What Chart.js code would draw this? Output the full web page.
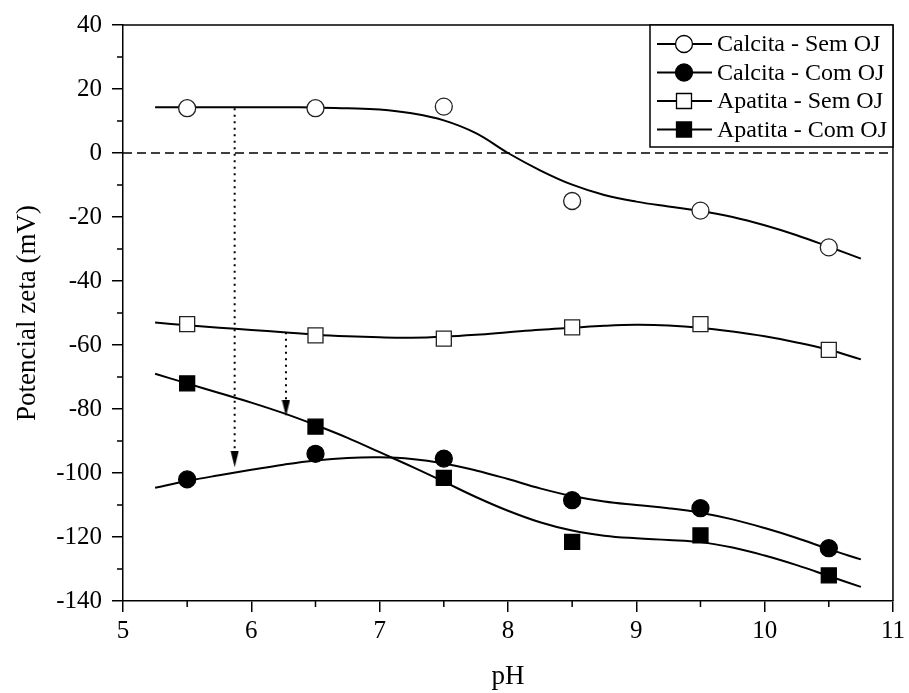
<!DOCTYPE html>
<html lang="pt-br">
<head>
  <meta charset="UTF-8">
  <title>Potencial zeta x pH</title>
  <script src="https://cdn.jsdelivr.net/npm/chart.js"></script>
  <style>
    html, body { margin: 0; padding: 0; background: #fff; }
    #wrap { position: relative; width: 909px; height: 693px; }
  </style>
</head>
<body>
  <div id="wrap"><canvas id="grafico" width="909" height="693"></canvas></div>

  <script>
    // pontos medidos
    const phPontos = [5.5, 6.5, 7.5, 8.5, 9.5, 10.5];
    const calcitaSem = [14, 14, 14.5, -15, -18, -29.5];
    const calcitaCom = [-102, -94, -95.5, -108.5, -111, -123.5];
    const apatitaSem = [-53.5, -57, -58, -54.5, -53.5, -61.5];
    const apatitaCom = [-72, -85.5, -101.5, -121.5, -119.5, -132];

    // curvas de ajuste
    const phAjuste = [5.25, 5.5, 5.75, 6, 6.25, 6.5, 6.75, 7, 7.25, 7.5, 7.75, 8, 8.25, 8.5, 8.75, 9, 9.25, 9.5, 9.75, 10, 10.25, 10.5, 10.75];
    const ajusteCalcitaSem = [14.3, 14.3, 14.3, 14.3, 14.3, 14.2, 14.0, 13.6, 12.4, 10.2, 6.2, 0, -5.4, -9.9, -13.1, -15.2, -16.7, -18.1, -20, -22.6, -25.7, -29.3, -33];
    const ajusteCalcitaCom = [-104.6, -102.5, -100.7, -99, -97.4, -96.1, -95.3, -95.1, -95.6, -97, -99.2, -101.9, -104.8, -107.2, -108.9, -110, -111, -112.4, -114.5, -117.2, -120.3, -123.8, -127];
    const ajusteApatitaSem = [-53, -53.8, -54.6, -55.3, -56, -56.8, -57.3, -57.6, -57.7, -57.4, -56.8, -56, -55.2, -54.6, -54, -53.7, -53.9, -54.6, -55.8, -57.3, -59.2, -61.5, -64.5];
    const ajusteApatitaCom = [-69, -72, -75, -78, -81.3, -85, -89, -93.5, -98, -102.7, -107.5, -111.8, -115.4, -118, -119.6, -120.4, -120.9, -121.6, -123.3, -125.8, -128.8, -132.2, -135.6];

    // setas pontilhadas (x, início e centro da ponta)
    const seta1X = [5.87, 5.87];
    const seta1Y = [14, -95.7];
    const seta2X = [6.27, 6.27];
    const seta2Y = [-56, -79.8];

    const linhaZeroX = [5, 11];
    const linhaZeroY = [0, 0];

    const xMin = 5, xMax = 11, xPasso = 1;
    const yMin = -140, yMax = 40, yPasso = 20;

    const fonte = "'Liberation Serif', 'Times New Roman', serif";

    const pares = (xs, ys) => xs.map((x, i) => ({ x: x, y: ys[i] }));

    // ponta de seta estreita, apontando para baixo
    const ponta = document.createElement('canvas');
    ponta.width = 9; ponta.height = 16;
    (function () {
      const c = ponta.getContext('2d');
      c.fillStyle = '#000';
      c.beginPath();
      c.moveTo(0.5, 0); c.lineTo(8.5, 0); c.lineTo(4.5, 16); c.closePath();
      c.fill();
    })();

    function serieAjuste(ys) {
      return {
        data: pares(phAjuste, ys),
        showLine: true,
        borderColor: '#000',
        borderWidth: 2,
        pointRadius: 0,
        tension: 0.4,
        order: 2
      };
    }

    function seriePontos(label, ys, estilo, cheio, raio) {
      return {
        label: label,
        legenda: true,
        data: pares(phPontos, ys),
        showLine: false,
        pointStyle: estilo,
        pointRadius: raio,
        pointBackgroundColor: cheio ? '#000' : '#fff',
        pointBorderColor: cheio ? '#000' : '#222',
        pointBorderWidth: 1.3,
        order: 0
      };
    }

    function serieSeta(xs, ys) {
      return {
        data: pares(xs, ys),
        showLine: true,
        borderColor: '#000',
        borderWidth: 2,
        borderDash: [2, 4.5],
        pointRadius: [0, 8],
        pointStyle: ['circle', ponta],
        order: 3
      };
    }

    // ticks menores, moldura e legenda
    const molduraPlugin = {
      id: 'moldura',
      afterDraw(chart) {
        const ctx = chart.ctx;
        const a = chart.chartArea;
        const sx = chart.scales.x, sy = chart.scales.y;
        ctx.save();
        ctx.strokeStyle = '#000';
        ctx.lineWidth = 1.5;
        ctx.beginPath();
        ctx.moveTo(a.left, a.top); ctx.lineTo(a.right, a.top); ctx.lineTo(a.right, a.bottom);
        for (let v = xMin + xPasso / 2; v < xMax; v += xPasso) {
          const px = sx.getPixelForValue(v);
          ctx.moveTo(px, a.bottom); ctx.lineTo(px, a.bottom + 6);
        }
        for (let v = yMin + yPasso / 2; v < yMax; v += yPasso) {
          const py = sy.getPixelForValue(v);
          ctx.moveTo(a.left, py); ctx.lineTo(a.left - 6, py);
        }
        ctx.stroke();

        const itens = chart.data.datasets.filter(d => d.legenda);
        const bx = 650, by = a.top, bw = a.right - 650, bh = 122;
        ctx.fillStyle = '#fff';
        ctx.fillRect(bx, by, bw, bh);
        ctx.lineWidth = 1.5;
        ctx.strokeRect(bx, by, bw, bh);
        ctx.font = '24px ' + fonte;
        ctx.textBaseline = 'middle';
        itens.forEach((d, i) => {
          const y = by + 19 + i * 28.5;
          ctx.strokeStyle = '#000';
          ctx.lineWidth = 2;
          ctx.beginPath();
          ctx.moveTo(657, y); ctx.lineTo(712, y);
          ctx.stroke();
          ctx.fillStyle = d.pointBackgroundColor;
          ctx.lineWidth = 1.3;
          ctx.beginPath();
          if (d.pointStyle === 'circle') {
            ctx.arc(684, y, 8.5, 0, Math.PI * 2);
          } else {
            ctx.rect(684 - 7.5, y - 7.5, 15, 15);
          }
          ctx.fill();
          ctx.stroke();
          ctx.fillStyle = '#000';
          ctx.fillText(d.label, 717, y + 1);
        });
        ctx.restore();
      }
    };

    const grafico = new Chart(document.getElementById('grafico').getContext('2d'), {
      type: 'scatter',
      data: {
        datasets: [
          seriePontos('Calcita - Sem OJ', calcitaSem, 'circle', false, 8.5),
          seriePontos('Calcita - Com OJ', calcitaCom, 'circle', true, 8.5),
          seriePontos('Apatita - Sem OJ', apatitaSem, 'rect', false, 10.6),
          seriePontos('Apatita - Com OJ', apatitaCom, 'rect', true, 10.6),
          serieAjuste(ajusteCalcitaSem),
          serieAjuste(ajusteCalcitaCom),
          serieAjuste(ajusteApatitaSem),
          serieAjuste(ajusteApatitaCom),
          {
            data: pares(linhaZeroX, linhaZeroY),
            showLine: true,
            borderColor: '#000',
            borderWidth: 1.5,
            borderDash: [9, 5],
            pointRadius: 0,
            order: 4
          },
          serieSeta(seta1X, seta1Y),
          serieSeta(seta2X, seta2Y)
        ]
      },
      options: {
        responsive: false,
        animation: false,
        events: [],
        layout: { padding: { top: 24, right: 15, left: 0, bottom: 0 } },
        plugins: {
          legend: { display: false },
          tooltip: { enabled: false }
        },
        scales: {
          x: {
            type: 'linear',
            min: xMin, max: xMax,
            afterFit(s) { s.height = 92; },
            ticks: { stepSize: xPasso, color: '#000', font: { family: fonte, size: 25 }, padding: 4 },
            grid: { drawOnChartArea: false, tickLength: 11, color: '#000', lineWidth: 1.5 },
            border: { color: '#000', width: 1.5 },
            title: { display: true, text: 'pH', color: '#000', font: { family: fonte, size: 27 }, padding: { top: 0, bottom: 0 } }
          },
          y: {
            type: 'linear',
            min: yMin, max: yMax,
            afterFit(s) { s.width = 123; },
            ticks: { stepSize: yPasso, color: '#000', font: { family: fonte, size: 25 }, padding: 10 },
            grid: { drawOnChartArea: false, tickLength: 11, color: '#000', lineWidth: 1.5 },
            border: { color: '#000', width: 1.5 },
            title: { display: true, text: 'Potencial zeta (mV)', color: '#000', font: { family: fonte, size: 27 }, padding: { top: 12, bottom: 0 } }
          }
        }
      },
      plugins: [molduraPlugin]
    });
  </script>
</body>
</html>
